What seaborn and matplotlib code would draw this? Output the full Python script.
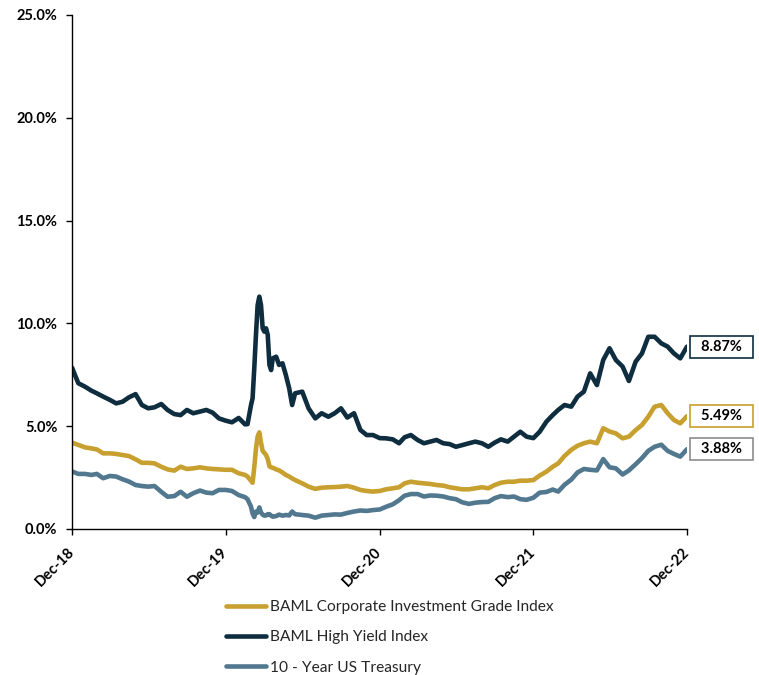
import matplotlib
matplotlib.use("Agg")
import matplotlib.pyplot as plt
import numpy as np
import pandas as pd
import seaborn as sns
from matplotlib.ticker import FuncFormatter

sns.set_style("ticks")
plt.rcParams["font.family"] = ["Lato", "DejaVu Sans"]

# ---------------------------------------------------------------- data
series_names = [
    "BAML Corporate Investment Grade Index",
    "BAML High Yield Index",
    "10 - Year US Treasury",
]
series_colors = ["#c8a02f", "#0e2d3f", "#527890"]
label_edges = ["#c8a02f", "#0e2d3f", "#8c8c8c"]

tick_dates = ["2018-12-31", "2019-12-31", "2020-12-31", "2021-12-31", "2022-12-31"]
tick_labels = ["Dec-18", "Dec-19", "Dec-20", "Dec-21", "Dec-22"]
y_ticks = [0, 5, 10, 15, 20, 25]

# observations around the March 2020 sell-off are recorded more densely
covid_dates = [
    "2020-02-21", "2020-02-29", "2020-03-04", "2020-03-08", "2020-03-12",
    "2020-03-16", "2020-03-20", "2020-03-24", "2020-03-28", "2020-04-01",
    "2020-04-05", "2020-04-09", "2020-04-13", "2020-04-17", "2020-04-21",
    "2020-04-29", "2020-05-06", "2020-05-14", "2020-05-22", "2020-05-30",
    "2020-06-06", "2020-06-13",
]

# yields in %, semi-monthly (15th / month end) with the dense block above
hy_yield = [
    # Dec-18 .. Feb-20
    7.85, 7.09, 6.92, 6.73, 6.60, 6.44, 6.28, 6.11, 6.19, 6.40, 6.56, 6.03,
    5.87, 5.92, 6.08, 5.79, 5.59, 5.54, 5.79, 5.63, 5.71, 5.79, 5.66, 5.38,
    5.27, 5.19, 5.40, 5.09,
    # Feb-20 .. Jun-20
    5.10, 6.00, 6.36, 7.82, 9.44, 10.89, 11.30, 10.89, 9.76, 9.60, 9.76,
    9.44, 7.98, 7.73, 8.30, 8.38, 7.98, 8.06, 7.49, 6.84, 6.03, 6.60,
    # Jun-20 .. Dec-22
    6.68, 5.87, 5.38, 5.63, 5.46, 5.63, 5.87, 5.42, 5.63, 4.82, 4.57, 4.57,
    4.42, 4.41, 4.36, 4.17, 4.46, 4.57, 4.33, 4.17, 4.25, 4.33, 4.17, 4.13,
    4.00, 4.08, 4.17, 4.25, 4.17, 4.00, 4.20, 4.36, 4.25, 4.49, 4.73, 4.49,
    4.42, 4.73, 5.22, 5.54, 5.79, 6.03, 5.95, 6.44, 6.68, 7.57, 7.00, 8.22,
    8.79, 8.22, 7.90, 7.20, 8.14, 8.54, 9.35, 9.35, 9.03, 8.87, 8.54, 8.30,
    8.87,
]
ig_yield = [
    4.20, 4.09, 3.97, 3.92, 3.87, 3.68, 3.68, 3.65, 3.60, 3.55, 3.39, 3.22,
    3.22, 3.19, 3.03, 2.90, 2.84, 3.03, 2.92, 2.95, 3.00, 2.95, 2.92, 2.90,
    2.88, 2.88, 2.71, 2.63,
    2.55, 2.35, 2.25, 3.00, 3.90, 4.50, 4.70, 4.20, 3.80, 3.70, 3.60,
    3.40, 3.05, 3.00, 2.98, 2.90, 2.85, 2.75, 2.63, 2.55, 2.46, 2.38,
    2.22, 2.06, 1.95, 2.01, 2.03, 2.04, 2.06, 2.09, 2.01, 1.90, 1.85, 1.82,
    1.85, 1.93, 1.98, 2.03, 2.22, 2.30, 2.25, 2.22, 2.19, 2.14, 2.11, 2.03,
    1.98, 1.93, 1.93, 1.98, 2.03, 1.98, 2.14, 2.25, 2.30, 2.30, 2.35, 2.35,
    2.38, 2.60, 2.79, 3.03, 3.19, 3.55, 3.85, 4.05, 4.17, 4.25, 4.17, 4.90,
    4.74, 4.65, 4.41, 4.49, 4.81, 5.06, 5.46, 5.95, 6.03, 5.63, 5.30, 5.14,
    5.49,
]
ust_yield = [
    2.80, 2.68, 2.68, 2.63, 2.68, 2.47, 2.58, 2.55, 2.42, 2.31, 2.14, 2.09,
    2.06, 2.09, 1.81, 1.57, 1.60, 1.81, 1.57, 1.74, 1.87, 1.77, 1.74, 1.90,
    1.90, 1.85, 1.65, 1.55,
    1.45, 1.10, 0.75, 0.58, 0.85, 0.80, 1.05, 0.80, 0.70, 0.65, 0.66,
    0.72, 0.72, 0.65, 0.60, 0.63, 0.70, 0.65, 0.68, 0.66, 0.85, 0.72,
    0.68, 0.65, 0.55, 0.65, 0.68, 0.71, 0.70, 0.78, 0.85, 0.90, 0.88, 0.92,
    0.95, 1.08, 1.20, 1.40, 1.62, 1.70, 1.70, 1.58, 1.63, 1.62, 1.58, 1.50,
    1.45, 1.30, 1.22, 1.28, 1.31, 1.32, 1.50, 1.60, 1.55, 1.58, 1.45, 1.42,
    1.52, 1.77, 1.80, 1.92, 1.82, 2.15, 2.40, 2.75, 2.92, 2.88, 2.85, 3.40,
    3.00, 2.95, 2.65, 2.85, 3.15, 3.45, 3.80, 4.00, 4.10, 3.80, 3.65, 3.52,
    3.88,
]

# ------------------------------------------------------- date index
try:
    grid = pd.date_range("2018-12-31", "2022-12-31", freq="SME")
except ValueError:
    grid = pd.date_range("2018-12-31", "2022-12-31", freq="SM")
dense = pd.to_datetime(covid_dates)
dates = (
    list(grid[grid <= "2020-02-15"])
    + list(dense)
    + list(grid[grid >= "2020-06-30"])
)

frames = []
for name, vals in zip(series_names, [ig_yield, hy_yield, ust_yield]):
    frames.append(pd.DataFrame({"date": dates, "value": vals, "series": name}))
df = pd.concat(frames, ignore_index=True)

# ------------------------------------------------------------ figure
fig = plt.figure(figsize=(7.59, 6.75), dpi=100)
ax = fig.add_axes([72 / 759, 1 - 529 / 675, 615 / 759, 514 / 675])

sns.lineplot(
    data=df, x="date", y="value", hue="series", hue_order=series_names,
    palette=series_colors, linewidth=3.3, estimator=None, sort=False, ax=ax,
)

ax.set_xlim(pd.Timestamp(tick_dates[0]), pd.Timestamp(tick_dates[-1]))
ax.set_ylim(0, 25)
ax.set_yticks(y_ticks)
ax.yaxis.set_major_formatter(FuncFormatter(lambda v, _: f"{v:.1f}%"))
ax.set_xticks(pd.to_datetime(tick_dates))
ax.set_xticklabels(tick_labels, rotation=45, ha="right", va="center",
                   rotation_mode="anchor", fontweight="bold", fontsize=10.5)
for lab in ax.get_yticklabels():
    lab.set_fontweight("bold")
    lab.set_fontsize(10.5)
ax.set_xlabel("")
ax.set_ylabel("")

sns.despine(ax=ax)
for side in ("left", "bottom"):
    ax.spines[side].set_color("black")
    ax.spines[side].set_linewidth(1.0)
ax.tick_params(axis="y", direction="out", length=4, width=1, color="black",
               pad=6.5, labelcolor="black")
ax.tick_params(axis="x", direction="out", length=4, width=1, color="black",
               pad=11, labelcolor="black")

# value tags at the latest observation
last_date = dates[-1]
for vals, edge in zip([hy_yield, ig_yield, ust_yield],
                      [label_edges[1], label_edges[0], label_edges[2]]):
    ax.annotate(
        f"  {vals[-1]:.2f}%  ", xy=(last_date, vals[-1]),
        xytext=(5, 0), textcoords="offset points",
        ha="left", va="center", fontsize=10.5, fontweight="bold",
        color="black", annotation_clip=False,
        bbox=dict(boxstyle="square,pad=0.28", facecolor="white",
                  edgecolor=edge, linewidth=1.2),
    )

sns.move_legend(
    ax, "upper left", bbox_to_anchor=(226 / 759, 1 - 600 / 675),
    bbox_transform=fig.transFigure, frameon=False, title=None,
    fontsize=11.2, handlelength=2.6, handletextpad=0.2, labelspacing=1.05,
    borderpad=0, borderaxespad=0,
)
for line in ax.get_legend().get_lines():
    line.set_linewidth(3.3)

fig.savefig("out.png", dpi=100)
